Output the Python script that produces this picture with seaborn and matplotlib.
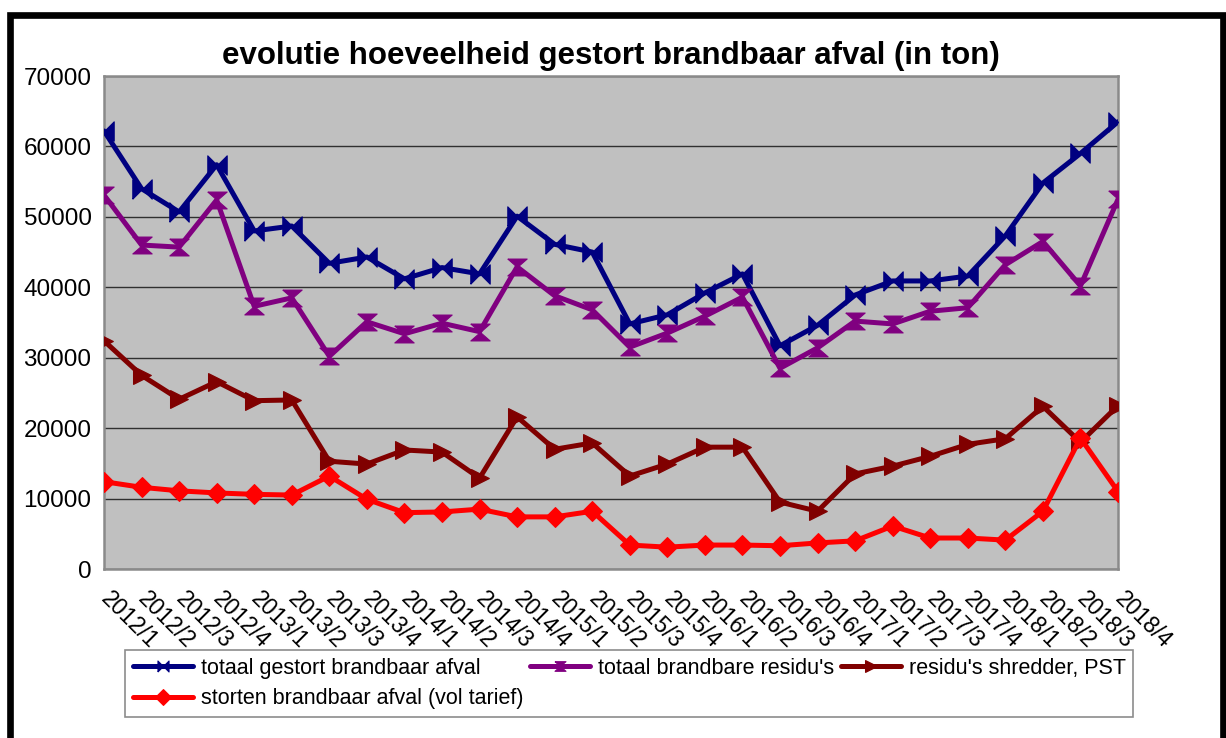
import matplotlib
matplotlib.use("Agg")
import matplotlib.pyplot as plt
from matplotlib.patches import Rectangle
import seaborn as sns

# quarters on the x axis
quarters = ["2012/1", "2012/2", "2012/3", "2012/4", "2013/1", "2013/2", "2013/3", "2013/4",
            "2014/1", "2014/2", "2014/3", "2014/4", "2015/1", "2015/2", "2015/3", "2015/4",
            "2016/1", "2016/2", "2016/3", "2016/4", "2017/1", "2017/2", "2017/3", "2017/4",
            "2018/1", "2018/2", "2018/3", "2018/4"]

# values (ton)
totaal_gestort = [62200, 54000, 50700, 57400, 48000, 48700, 43400, 44300,
                  41200, 42800, 41900, 50100, 46100, 45000, 34800, 36100,
                  39200, 41900, 31700, 34600, 38900, 40900, 40900, 41600,
                  47300, 54800, 59000, 63500]
totaal_residus = [53100, 46000, 45700, 52400, 37300, 38500, 30200, 35100,
                  33400, 34900, 33700, 42900, 38800, 36800, 31500, 33500,
                  35900, 38600, 28500, 31400, 35200, 34800, 36600, 37100,
                  43200, 46500, 40200, 52500]
shredder_pst = [32400, 27500, 24100, 26600, 23900, 24000, 15300, 14900,
                16900, 16600, 12900, 21600, 17000, 17900, 13200, 14900,
                17300, 17300, 9500, 8200, 13500, 14600, 16000, 17700,
                18500, 23100, 18000, 23200]
storten_vol = [12400, 11600, 11100, 10800, 10600, 10500, 13200, 9900,
               8000, 8100, 8500, 7400, 7400, 8200, 3400, 3100,
               3400, 3400, 3300, 3700, 4000, 6100, 4400, 4400,
               4100, 8200, 18600, 11000]

sns.set_style("white")
plt.rcParams["font.family"] = ["Liberation Sans", "DejaVu Sans"]
plt.rcParams["text.color"] = "black"
plt.rcParams["xtick.labelcolor"] = "black"
plt.rcParams["ytick.labelcolor"] = "black"

fig = plt.figure(figsize=(12.26, 7.38), dpi=100)
ax = fig.add_axes([104 / 1226, 1 - 569 / 738, (1118 - 104) / 1226, (569 - 76) / 738])
ax.set_facecolor("#c0c0c0")

# custom markers: bowtie and hourglass
bowtie = [(-1, -1), (0, 0), (1, -1), (1, 1), (0, 0), (-1, 1), (-1, -1)]
hourglass = [(-1.15, 1), (1.15, 1), (0, 0), (1.15, -1), (-1.15, -1), (0, 0), (-1.15, 1)]

x = list(range(len(quarters)))
series = [
    (totaal_gestort, "totaal gestort brandbaar afval", "#000080", bowtie, 14),
    (totaal_residus, "totaal brandbare residu's", "#800080", hourglass, 14),
    (shredder_pst, "residu's shredder, PST", "#800000", ">", 13),
    (storten_vol, "storten brandbaar afval (vol tarief)", "#ff0000", "D", 10),
]
for vals, name, col, mk, ms in series:
    sns.lineplot(x=x, y=vals, ax=ax, color=col, linewidth=3.6, marker=mk,
                 markersize=ms, markeredgecolor=col, markerfacecolor=col,
                 label=name, zorder=3)

ax.set_xlim(0, len(quarters) - 1)
ax.set_ylim(0, 70000)
ax.set_yticks(range(0, 70001, 10000))
ax.set_yticklabels([str(v) for v in range(0, 70001, 10000)], fontsize=17.5)
ax.set_xticks(x)
ax.set_xticklabels(quarters, rotation=-45, ha="left", va="center",
                   rotation_mode="anchor", fontsize=16.5)
ax.tick_params(axis="y", length=6, color="#a0a0a0", width=1, pad=3)
ax.tick_params(axis="x", length=7, color="#a0a0a0", width=1, pad=12)
ax.yaxis.grid(True, color="#303030", linewidth=1)
ax.set_axisbelow(True)
for s in ax.spines.values():
    s.set_color("#8a8a8a")
    s.set_linewidth(1.8)

handles, labels = ax.get_legend_handles_labels()
ax.get_legend().remove()
# reorder so the legend reads row by row
order = [0, 3, 1, 2]
leg = fig.legend([handles[i] for i in order], [labels[i] for i in order],
                 ncol=3, loc="upper left",
                 bbox_to_anchor=(125 / 1226, 1 - 650 / 738), fontsize=15.5,
                 frameon=True, fancybox=False, edgecolor="#707070",
                 handlelength=2.8, handletextpad=0.37, columnspacing=0.3,
                 labelspacing=0.45, borderpad=0.35, borderaxespad=0)
leg.get_frame().set_linewidth(1.2)
for h in leg.legend_handles:
    h.set_markersize(8)

fig.text(611 / 1226, 1 - 56 / 738, "evolutie hoeveelheid gestort brandbaar afval (in ton)",
         ha="center", va="center", fontsize=22.5, fontweight="bold")

# thick black frame around the chart
fig.patches.append(Rectangle((10 / 1226, -0.1), (1222.5 - 10) / 1226, 1.1 - 15.5 / 738,
                             transform=fig.transFigure, fill=False,
                             edgecolor="black", linewidth=4.8))

fig.savefig("out.png", dpi=100)
